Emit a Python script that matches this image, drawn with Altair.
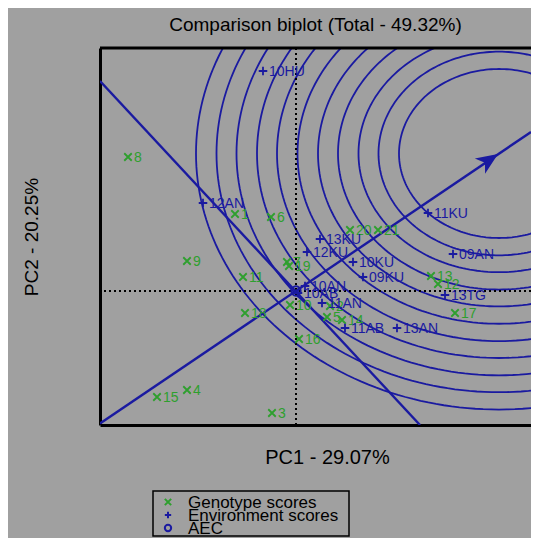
import numpy as np
import pandas as pd
import altair as alt

# ---------------- data ----------------
gen_labels = [str(i) for i in range(1, 22)]
gen_pc1 = [-1.22, 0.68, -0.48, -2.18, 0.62, -0.50, -0.18, -3.36, -2.18, -0.12,
           -1.06, 2.84, 2.70, 0.92, -2.78, 0.06, 3.18, -1.02, -0.14, 1.08, 1.64]
gen_pc2 = [1.54, -0.30, -2.44, -1.98, -0.52, 1.48, 0.58, 2.68, 0.60, -0.28,
           0.28, 0.14, 0.30, -0.58, -2.12, -0.96, -0.44, -0.44, 0.50, 1.22, 1.22]

env_labels = ["10HU", "12AN", "11KU", "13KU", "12KU", "10KU", "09AN", "09KU",
              "13TG", "11AN", "11AB", "13AN", "10AN", "10AB"]
env_pc1 = [-0.66, -1.86, 2.64, 0.48, 0.22, 1.14, 3.14, 1.34, 2.98, 0.52, 0.98, 2.02, 0.18, 0.04]
env_pc2 = [4.40, 1.76, 1.56, 1.04, 0.78, 0.58, 0.74, 0.28, -0.08, -0.24, -0.74, -0.74, 0.10, -0.04]

# AEC abscissa and its perpendicular (end points)
aec_pc1 = [-3.92, 4.70]
aec_pc2 = [-2.65, 3.18]
perp_pc1 = [-3.92, 2.48]
perp_pc2 = [4.20, -2.68]
ideal_pc1 = [4.04]
ideal_pc2 = [2.74]

# concentric rings around the ideal genotype
ring_center = (4.06, 2.75)
ring_rx = [2.00, 2.41, 2.81, 3.22, 3.62, 4.03, 4.44, 4.84, 5.25, 5.65, 6.06]
ring_aspect = 0.845

kinds = ["Genotype scores", "Environment scores", "AEC"]

# ---------------- styling ----------------
BLUE = "#1a1aa0"
GREEN = "#2e9f2e"
BG = "#a0a0a0"
FONT = "Liberation Sans"
X_PATH = "M-1,-1L1,1M1,-1L-1,1"
PLUS_PATH = "M-1,0L1,0M0,-1L0,1"
ARROW_PATH = "M0,0L-0.42,1L0,0.72L0.42,1Z"

W, H = 431, 377

# ---------------- tables ----------------
pts = pd.concat([
    pd.DataFrame({"pc1": gen_pc1, "pc2": gen_pc2, "label": gen_labels, "kind": kinds[0]}),
    pd.DataFrame({"pc1": env_pc1, "pc2": env_pc2, "label": env_labels, "kind": kinds[1]}),
    pd.DataFrame({"pc1": [0.0], "pc2": [0.0], "label": [""], "kind": kinds[2]}),
], ignore_index=True)

t = np.linspace(0, 2 * np.pi, 241)
ring_rows = []
for k, rx in enumerate(ring_rx):
    for i, a in enumerate(t):
        ring_rows.append({"pc1": ring_center[0] + rx * np.cos(a),
                          "pc2": ring_center[1] + rx * ring_aspect * np.sin(a),
                          "ring": k, "i": i})
rings = pd.DataFrame(ring_rows)

lines = pd.DataFrame({
    "pc1": aec_pc1 + perp_pc1,
    "pc2": aec_pc2 + perp_pc2,
    "line": ["aec", "aec", "perp", "perp"],
    "i": [0, 1, 0, 1],
})
ideal = pd.DataFrame({"pc1": ideal_pc1, "pc2": ideal_pc2})
origin = pd.DataFrame({"pc1": [0.0], "pc2": [0.0]})
legend_df = pd.DataFrame({"kind": kinds})

# ---------------- encodings ----------------
xs = alt.Scale(domain=[-3.92, 4.70], nice=False, zero=False)
ys = alt.Scale(domain=[-2.68, 4.86], nice=False, zero=False)
x_axis = alt.Axis(title="PC1 - 29.07%", ticks=False, labels=False, grid=False,
                  domainColor="black", domainWidth=3, titleFontSize=20,
                  titleFontWeight="normal", titleColor="black", titleFont=FONT,
                  titleX=227, titleY=38, titleBaseline="alphabetic", titleAlign="center")
y_axis = alt.Axis(title="PC2 - 20.25%", ticks=False, labels=False, grid=False,
                  domainColor="black", domainWidth=3, titleFontSize=19,
                  titleFontWeight="normal", titleColor="black", titleFont=FONT,
                  titleX=-69, titleBaseline="middle", titleAlign="center")
X = alt.X("pc1:Q", scale=xs, axis=x_axis)
Y0 = alt.Y("pc2:Q", scale=ys, axis=y_axis)
Y = alt.Y("pc2:Q", scale=ys, axis=None)

color_scale = alt.Scale(domain=kinds, range=[GREEN, BLUE, BLUE])
shape_scale = alt.Scale(domain=kinds, range=[X_PATH, PLUS_PATH, "circle"])
size_scale = alt.Scale(domain=kinds, range=[56, 90, 22])
COLOR = alt.Color("kind:N", scale=color_scale, legend=None)
SHAPE = alt.Shape("kind:N", scale=shape_scale, legend=None)

ring_layer = alt.Chart(rings).mark_line(clip=True, color=BLUE, strokeWidth=1.8).encode(
    x=X, y=Y0, detail="ring:N", order="i:Q")

vrule = alt.Chart(origin).mark_rule(color="black", strokeWidth=2, strokeDash=[2, 3]).encode(x=X)
hrule = alt.Chart(origin).mark_rule(color="black", strokeWidth=2, strokeDash=[2, 3]).encode(y=Y)

aec_layer = alt.Chart(lines).mark_line(clip=True, color=BLUE, strokeWidth=2.4).encode(
    x=X, y=Y, detail="line:N", order="i:Q")

arrow = alt.Chart(ideal).mark_point(filled=True, shape=ARROW_PATH, angle=56, size=1900,
                                    color=BLUE, opacity=1).encode(x=X, y=Y)

points = alt.Chart(pts).mark_point(filled=False, strokeWidth=1.8, opacity=1).encode(
    x=X, y=Y, color=COLOR, shape=SHAPE,
    size=alt.Size("kind:N", scale=size_scale, legend=None),
)

labels = alt.Chart(pts).mark_text(align="left", baseline="middle", dx=6, dy=1,
                                  fontSize=14, font=FONT).encode(
    x=X, y=Y, text="label:N", color=COLOR,
)

top_border = alt.Chart(origin).mark_rule(color="black", strokeWidth=3).encode(
    x=alt.value(0), x2=alt.value(W), y=alt.value(0))

# ----- legend (own row scale below the plot) -----
LY = alt.Y("kind:N", sort=kinds, axis=None,
           scale=alt.Scale(domain=kinds, range=[454, 480], padding=0))
legend_box = alt.Chart(origin).mark_rect(fill=None, stroke="black", strokeWidth=1.5).encode(
    x=alt.value(53), x2=alt.value(249), y=alt.value(443), y2=alt.value(488))
legend_sym = alt.Chart(legend_df).mark_point(filled=False, strokeWidth=2, size=40,
                                              opacity=1).encode(
    x=alt.value(68), y=LY, color=COLOR, shape=SHAPE)
legend_txt = alt.Chart(legend_df).mark_text(align="left", baseline="middle", fontSize=17,
                                             font=FONT, color="black", dy=1).encode(
    x=alt.value(88), y=LY, text="kind:N")

chart = alt.layer(
    ring_layer, vrule, hrule, aec_layer, arrow, points, labels, top_border,
    legend_box, legend_sym, legend_txt
).resolve_scale(y="independent").properties(
    width=W, height=H,
    background=BG,
    padding={"left": 92, "top": 40, "right": 0, "bottom": 113},
    autosize=alt.AutoSizeParams(type="none"),
    title=alt.TitleParams("Comparison biplot (Total - 49.32%)", fontSize=19,
                          font=FONT, fontWeight="normal", color="black",
                          anchor="middle", offset=12),
).configure_view(strokeWidth=0).configure(font=FONT)

chart.save("out.html", embed_options={"renderer": "svg", "actions": False})
